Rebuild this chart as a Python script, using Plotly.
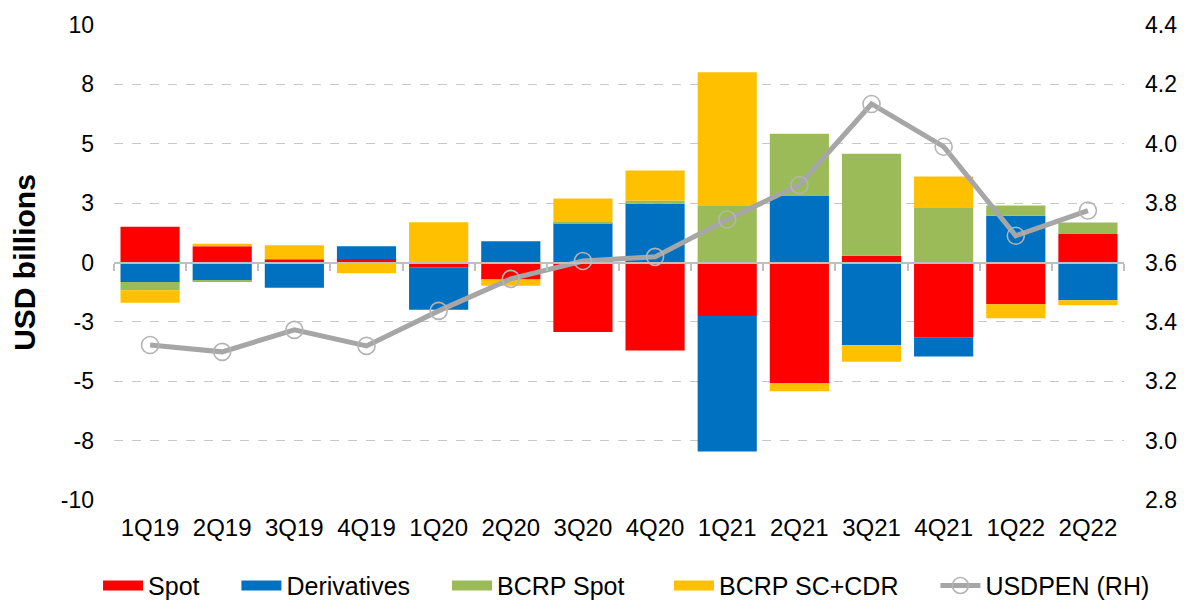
import plotly.graph_objects as go

quarters = ["1Q19", "2Q19", "3Q19", "4Q19", "1Q20", "2Q20", "3Q20", "4Q20",
            "1Q21", "2Q21", "3Q21", "4Q21", "1Q22", "2Q22"]
spot = [1.51, 0.68, 0.14, 0.15, -0.20, -0.72, -2.93, -3.70,
        -2.25, -5.07, 0.28, -3.17, -1.76, 1.20]
derivatives = [-0.82, -0.77, -1.06, 0.53, -1.79, 0.90, 1.66, 2.47,
               -5.71, 2.82, -3.48, -0.79, 1.97, -1.59]
bcrp_spot = [-0.35, -0.03, 0.0, 0.0, 0.0, 0.0, 0.05, 0.14,
             2.38, 2.60, 4.30, 2.33, 0.43, 0.48]
bcrp_sc_cdr = [-0.52, 0.11, 0.59, -0.45, 1.69, -0.26, 0.98, 1.26,
               5.63, -0.35, -0.70, 1.29, -0.59, -0.21]
usdpen = [3.322, 3.299, 3.373, 3.319, 3.437, 3.545, 3.605, 3.619,
          3.745, 3.861, 4.134, 3.990, 3.690, 3.775]

left_tickvals = [-10, -7.5, -5, -2.5, 0, 2.5, 5, 7.5, 10]
left_ticktext = ["-10", "-8", "-5", "-3", "0", "3", "5", "8", "10"]
right_tickvals = [2.8, 3.0, 3.2, 3.4, 3.6, 3.8, 4.0, 4.2, 4.4]

FONT = "Liberation Sans, Arial, sans-serif"
PAD = "\u2003\u00a0"  # spacing after legend labels
fig = go.Figure()

series = [("Spot", spot, "#FF0000", "legend", PAD),
          ("Derivatives", derivatives, "#0070C0", "legend", PAD),
          ("BCRP Spot", bcrp_spot, "#9BBB59", "legend", ""),
          ("BCRP SC+CDR", bcrp_sc_cdr, "#FFC000", "legend2", PAD)]
for name, vals, col, leg, pad in series:
    fig.add_trace(go.Bar(x=quarters, y=vals, name=name, marker_color=col,
                         marker_line_width=0, showlegend=False,
                         legendgroup=name))
    # wide legend swatch (legend only)
    fig.add_trace(go.Scatter(x=[None], y=[None], name=name + pad, mode="lines",
                             line=dict(color=col, width=12), legendgroup=name,
                             legend=leg, hoverinfo="skip"))

fig.add_trace(go.Scatter(x=quarters, y=usdpen, name="USDPEN (RH)", yaxis="y2",
                         mode="lines+markers", legend="legend2",
                         line=dict(color="#A6A6A6", width=5),
                         marker=dict(symbol="circle-open", size=17,
                                     color="#B4B4B4", line=dict(width=1.6))))

# invisible helper trace for the zero-line category axis
fig.add_trace(go.Scatter(x=[], y=[], xaxis="x2", yaxis="y", showlegend=False,
                         hoverinfo="skip"))

legend_common = dict(orientation="h", xanchor="left", xref="container",
                     yref="container", y=0.045, yanchor="middle",
                     font=dict(size=25), traceorder="normal", itemwidth=40,
                     bgcolor="rgba(0,0,0,0)")

fig.update_layout(
    width=1188, height=605,
    barmode="relative", bargap=0.18,
    plot_bgcolor="white", paper_bgcolor="white",
    margin=dict(l=106, r=72, t=17, b=113),
    font=dict(family=FONT, size=22, color="#000000"),
    xaxis=dict(type="category", range=[-0.5, 13.5], showline=False,
               ticks="", showgrid=False, ticklabelstandoff=11,
               tickfont=dict(size=24), automargin=False),
    xaxis2=dict(overlaying="x", anchor="free", position=0.5,
                range=[-0.5, 13.5], tick0=-0.5, dtick=1,
                showline=True, linecolor="#BFBFBF", linewidth=2,
                ticks="outside", ticklen=7, tickcolor="#BFBFBF", tickwidth=1.5,
                showticklabels=False, showgrid=False, zeroline=False,
                automargin=False),
    yaxis=dict(range=[-10, 10], tickvals=left_tickvals, ticktext=left_ticktext,
               showgrid=True, gridcolor="#C8C8C8", griddash="dash", gridwidth=1,
               zeroline=False, showline=False, ticklabelstandoff=19,
               tickfont=dict(size=23), automargin=False,
               title=dict(text="<b>USD billions</b>", font=dict(size=30),
                          standoff=20)),
    yaxis2=dict(range=[2.8, 4.4], tickvals=right_tickvals, tickformat=".1f",
                overlaying="y", side="right", showgrid=False, zeroline=False,
                showline=False, ticklabelstandoff=20, tickfont=dict(size=23),
                automargin=False),
    legend=dict(x=0.0758, **legend_common),
    legend2=dict(x=0.5564, **legend_common),
    showlegend=True,
)

fig.write_html("out.html")
